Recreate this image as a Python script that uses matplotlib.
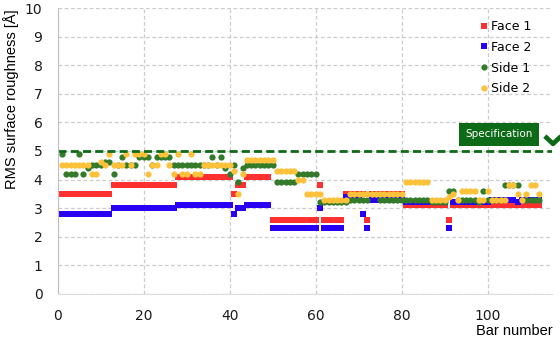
import matplotlib.pyplot as plt
import numpy as np

bars = np.arange(1, 113)

face1 = [3.5, 3.5, 3.5, 3.5, 3.5, 3.5, 3.5, 3.5, 3.5, 3.5,
         3.5, 3.5, 3.8, 3.8, 3.8, 3.8, 3.8, 3.8, 3.8, 3.8,
         3.8, 3.8, 3.8, 3.8, 3.8, 3.8, 3.8, 4.1, 4.1, 4.1,
         4.1, 4.1, 4.1, 4.1, 4.1, 4.1, 4.1, 4.1, 4.1, 4.1,
         3.5, 3.8, 3.8, 4.1, 4.1, 4.1, 4.1, 4.1, 4.1, 2.6,
         2.6, 2.6, 2.6, 2.6, 2.6, 2.6, 2.6, 2.6, 2.6, 2.6,
         3.8, 2.6, 2.6, 2.6, 2.6, 2.6, 3.5, 3.5, 3.5, 3.5,
         3.5, 2.6, 3.5, 3.5, 3.5, 3.5, 3.5, 3.5, 3.5, 3.5,
         3.1, 3.1, 3.1, 3.1, 3.1, 3.1, 3.1, 3.1, 3.1, 3.1,
         2.6, 3.1, 3.1, 3.1, 3.1, 3.1, 3.1, 3.1, 3.1, 3.1,
         3.1, 3.1, 3.1, 3.1, 3.1, 3.1, 3.1, 3.1, 3.1, 3.1,
         3.1, 3.1]

face2 = [2.8, 2.8, 2.8, 2.8, 2.8, 2.8, 2.8, 2.8, 2.8, 2.8,
         2.8, 2.8, 3.0, 3.0, 3.0, 3.0, 3.0, 3.0, 3.0, 3.0,
         3.0, 3.0, 3.0, 3.0, 3.0, 3.0, 3.0, 3.1, 3.1, 3.1,
         3.1, 3.1, 3.1, 3.1, 3.1, 3.1, 3.1, 3.1, 3.1, 3.1,
         2.8, 3.0, 3.0, 3.1, 3.1, 3.1, 3.1, 3.1, 3.1, 2.3,
         2.3, 2.3, 2.3, 2.3, 2.3, 2.3, 2.3, 2.3, 2.3, 2.3,
         3.0, 2.3, 2.3, 2.3, 2.3, 2.3, 3.4, 3.4, 3.4, 3.4,
         2.8, 2.3, 3.3, 3.3, 3.3, 3.3, 3.3, 3.3, 3.3, 3.3,
         3.2, 3.2, 3.2, 3.2, 3.2, 3.2, 3.2, 3.2, 3.2, 3.2,
         2.3, 3.2, 3.2, 3.2, 3.2, 3.2, 3.2, 3.2, 3.2, 3.2,
         3.3, 3.3, 3.3, 3.3, 3.3, 3.3, 3.2, 3.3, 3.3, 3.3,
         3.3, 3.3]

side1 = [4.9, 4.2, 4.2, 4.2, 4.9, 4.2, 4.4, 4.5, 4.5, 4.5,
         4.6, 4.6, 4.2, 4.5, 4.8, 4.5, 4.5, 4.5, 4.8, 4.8,
         4.8, 4.5, 4.8, 4.8, 4.8, 4.8, 4.5, 4.5, 4.5, 4.5,
         4.5, 4.5, 4.5, 4.5, 4.5, 4.8, 4.5, 4.8, 4.4, 4.2,
         4.5, 3.9, 4.4, 4.5, 4.5, 4.5, 4.5, 4.5, 4.5, 4.5,
         3.9, 3.9, 3.9, 3.9, 3.9, 4.2, 4.2, 4.2, 4.2, 4.2,
         3.2, 3.2, 3.2, 3.2, 3.2, 3.2, 3.2, 3.3, 3.3, 3.3,
         3.3, 3.3, 3.5, 3.5, 3.3, 3.3, 3.3, 3.3, 3.3, 3.3,
         3.3, 3.3, 3.3, 3.3, 3.3, 3.3, 3.2, 3.2, 3.2, 3.2,
         3.6, 3.6, 3.3, 3.3, 3.3, 3.3, 3.3, 3.2, 3.6, 3.3,
         3.3, 3.3, 3.3, 3.8, 3.8, 3.8, 3.8, 3.3, 3.3, 3.3,
         3.3, 3.3]

side2 = [4.5, 4.5, 4.5, 4.5, 4.5, 4.5, 4.5, 4.2, 4.2, 4.6,
         4.5, 4.9, 4.5, 4.5, 4.5, 4.9, 4.5, 4.9, 4.9, 4.9,
         4.2, 4.5, 4.5, 4.9, 4.9, 4.5, 4.2, 4.9, 4.2, 4.2,
         4.9, 4.2, 4.2, 4.5, 4.5, 4.5, 4.5, 4.5, 4.5, 4.5,
         4.3, 3.5, 4.2, 4.7, 4.7, 4.7, 4.7, 4.7, 4.7, 4.7,
         4.3, 4.3, 4.3, 4.3, 4.3, 4.0, 4.0, 3.5, 3.5, 3.5,
         3.5, 3.3, 3.3, 3.3, 3.3, 3.3, 3.3, 3.5, 3.5, 3.5,
         3.5, 3.5, 3.5, 3.5, 3.5, 3.5, 3.5, 3.5, 3.5, 3.5,
         3.9, 3.9, 3.9, 3.9, 3.9, 3.9, 3.3, 3.3, 3.3, 3.3,
         3.4, 3.5, 3.3, 3.6, 3.6, 3.6, 3.6, 3.3, 3.3, 3.6,
         3.3, 3.3, 3.3, 3.3, 3.8, 3.8, 3.5, 3.3, 3.5, 3.8,
         3.8, 3.5]

spec_level = 5.0

red = '#ff3030'
blue = '#2a00f5'
green = '#337a2a'
yellow = '#fdc13a'
spec_green = '#0d6a17'

fig = plt.figure(figsize=(5.6, 3.42), dpi=100)
ax = fig.add_axes([0.103, 0.1404, 0.883, 0.8362])

ax.plot(bars, face1, 's', color=red, ms=4.8, mew=0, label='Face 1')
ax.plot(bars, face2, 's', color=blue, ms=4.8, mew=0, label='Face 2')
ax.plot(bars, side1, 'o', color=green, ms=4.5, mew=0, label='Side 1')
ax.plot(bars, side2, 'o', color=yellow, ms=4.5, mew=0, label='Side 2')

ax.axhline(spec_level, color=spec_green, lw=2.0, ls=(0, (2.9, 1.5)))

# spec label box + chevron
ax.text(110.4, 5.58, 'Specification', color='white', fontsize=7.5,
        ha='right', va='center',
        bbox=dict(boxstyle='square,pad=0.6', fc=spec_green, ec='none'))
ax.plot([113.3, 115.2, 117.1], [5.52, 5.25, 5.52], color=spec_green,
        lw=3.4, solid_capstyle='butt', clip_on=False)

ax.set_xlim(0, 115)
ax.set_ylim(0, 10)
ax.set_xticks(range(0, 101, 20))
ax.set_yticks(range(0, 11))
ax.tick_params(length=0, pad=11, labelsize=10, colors='#1a1a1a')
ax.grid(True, color='#cccccc', ls=(0, (3, 2)), lw=0.9)
ax.set_axisbelow(True)

for s in ['top', 'right']:
    ax.spines[s].set_visible(False)
ax.spines['left'].set_color('#c0c0c0')
ax.spines['bottom'].set_color('#dddddd')

ax.set_ylabel('RMS surface roughness [Å]', family='Liberation Sans',
              fontsize=10.5, loc='top')
ax.yaxis.set_label_coords(-0.079, 0.995)
ax.set_xlabel('Bar number', family='Liberation Sans', fontsize=10.5, loc='right')
ax.xaxis.set_label_coords(1.001, -0.106)

ax.legend(loc='upper left', bbox_to_anchor=(0.852, 0.958), frameon=False,
          fontsize=9, borderpad=0, handlelength=0.8, handletextpad=0.2,
          labelspacing=0.62, borderaxespad=0)

fig.savefig('out.png', dpi=100)
